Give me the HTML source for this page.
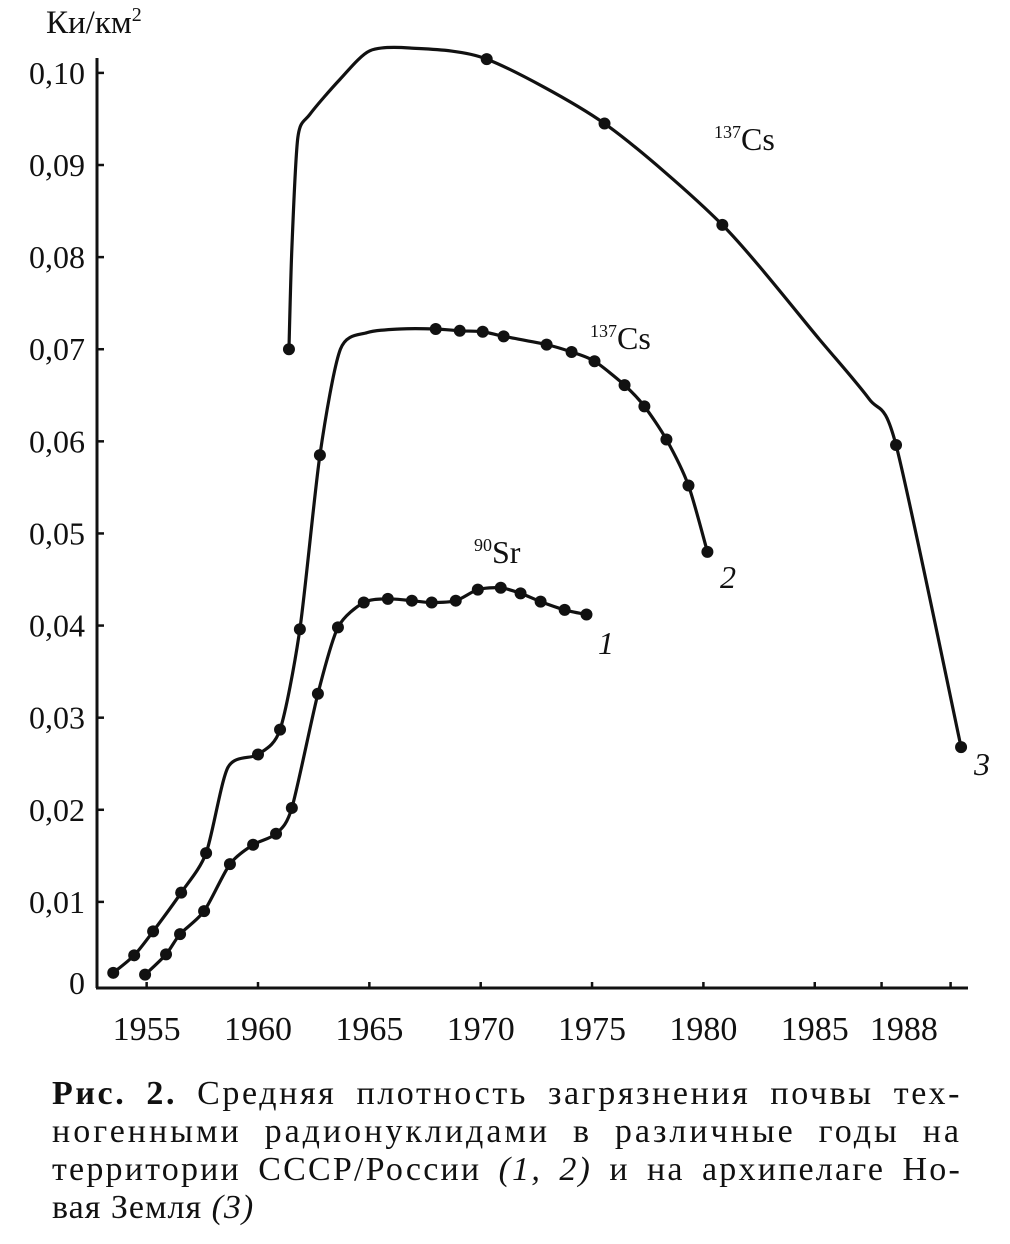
<!DOCTYPE html>
<html><head><meta charset="utf-8">
<style>
html,body{margin:0;padding:0;background:#fff;}
body{width:1010px;height:1244px;overflow:hidden;position:relative;font-family:"Liberation Serif",serif;}
#cap{position:absolute;left:52px;top:1075px;width:910px;font-size:34px;line-height:38px;color:#111;}
#cap div{text-align:justify;text-align-last:justify;white-space:nowrap;}
#cap div.last{text-align-last:left;}
#cap .meas{position:absolute;left:0;top:0;visibility:hidden;white-space:nowrap;}
</style></head><body>
<svg id="chart" width="1010" height="1070" style="position:absolute;left:0;top:0" font-family="Liberation Serif, serif"></svg>
<div id="cap">
<div><b>Рис. 2.</b> Средняя плотность загрязнения почвы тех-</div>
<div>ногенными радионуклидами в различные годы на</div>
<div>территории СССР/России <i>(1, 2)</i> и на архипелаге Но-</div>
<div class="last">вая Земля <i>(3)</i></div>
</div>
<script>
const yTicks=[0,0.01,0.02,0.03,0.04,0.05,0.06,0.07,0.08,0.09,0.10];
const yTickLabels=["0","0,01","0,02","0,03","0,04","0,05","0,06","0,07","0,08","0,09","0,10"];
const xTicks=[1955,1960,1965,1970,1975,1980,1985,1988,1991.1];
const xLabelYears=[1955,1960,1965,1970,1975,1980,1985,1989];
const xLabels=["1955","1960","1965","1970","1975","1980","1985","1988"];
// series 1: 90Sr
const s1Years=[1954.93,1955.87,1956.50,1957.58,1958.74,1959.78,1960.81,1961.52,1962.69,1963.59,1964.75,1965.83,1966.91,1967.80,1968.88,1969.87,1970.90,1971.79,1972.69,1973.77,1974.75];
const s1Vals=[0.0021,0.0043,0.0065,0.0090,0.0141,0.0162,0.0174,0.0202,0.0326,0.0398,0.0425,0.0429,0.0427,0.0425,0.0427,0.0439,0.0441,0.0435,0.0426,0.0417,0.0412];
const s1Dots=[1,1,1,1,1,1,1,1,1,1,1,1,1,1,1,1,1,1,1,1,1];
// series 2: 137Cs USSR
const s2Years=[1953.50,1954.44,1955.29,1956.55,1957.67,1958.65,1960.00,1960.99,1961.88,1962.78,1963.7,1964.9,1966.37,1967.98,1969.06,1970.09,1971.03,1972.96,1974.08,1975.11,1976.46,1977.35,1978.34,1979.33,1980.18];
const s2Vals=[0.0023,0.0042,0.0068,0.0110,0.0153,0.0246,0.0260,0.0287,0.0396,0.0585,0.0700,0.0718,0.0722,0.0722,0.0720,0.0719,0.0714,0.0705,0.0697,0.0687,0.0661,0.0638,0.0602,0.0552,0.0480];
const s2Dots=[1,1,1,1,1,0,1,1,1,1,0,0,0,1,1,1,1,1,1,1,1,1,1,1,1];
// series 3: 137Cs Novaya Zemlya
const s3Years=[1961.39,1961.52,1961.79,1962.33,1963.68,1965.02,1966.82,1970.27,1975.56,1980.85,1985.2,1987.44,1988.65,1991.57];
const s3Vals=[0.0700,0.0809,0.0930,0.0955,0.0993,0.1024,0.1027,0.1015,0.0945,0.0835,0.0711,0.0646,0.0596,0.0268];
const s3Dots=[1,0,0,0,0,0,0,1,1,1,0,0,1,1];

const NS="http://www.w3.org/2000/svg";
const svg=document.getElementById('chart');
const X=y=>258+(y-1960)*22.27;
const Y=v=>994-v*9211;
function mk(t,a,p){const e=document.createElementNS(NS,t);for(const k in a)e.setAttribute(k,a[k]);(p||svg).appendChild(e);return e;}
let ax=mk('line',{x1:97,y1:58,x2:97,y2:988,stroke:'#111','stroke-width':3});


let bx=mk('line',{x1:96,y1:988,x2:968,y2:988,stroke:'#111','stroke-width':3});


yTicks.forEach((v,i)=>{
  if(v>0){const tk=mk('line',{x1:97,y1:Y(v),x2:104,y2:Y(v),stroke:'#111','stroke-width':2.5});
  
  }
  const t=mk('text',{x:85,y:(v===0?994:Y(v)+11),'text-anchor':'end','font-size':32,fill:'#111'});
  t.textContent=yTickLabels[i];
  
  
});
xTicks.forEach(v=>{
  const tk=mk('line',{x1:X(v),y1:988,x2:X(v),y2:982,stroke:'#111','stroke-width':2.5});
  
  
});
xLabelYears.forEach((v,i)=>{
  const t=mk('text',{x:X(v),y:1040,'text-anchor':'middle','font-size':34,fill:'#111','textLength':68});
  t.textContent=xLabels[i];
  
  
});
const u=mk('text',{x:46,y:33,'font-size':33,fill:'#111'});
u.innerHTML='Ки/км<tspan font-size="20" dy="-12">2</tspan>';



function path(xs,vs){
  const p=xs.map((x,i)=>[X(x),Y(vs[i])]);
  let d='M'+p[0][0]+','+p[0][1];
  const t=0.13;
  for(let i=0;i<p.length-1;i++){
    const p0=p[i-1]||p[i],p1=p[i],p2=p[i+1],p3=p[i+2]||p2;
    d+=' C'+(p1[0]+(p2[0]-p0[0])*t)+','+(p1[1]+(p2[1]-p0[1])*t)+' '+(p2[0]-(p3[0]-p1[0])*t)+','+(p2[1]-(p3[1]-p1[1])*t)+' '+p2[0]+','+p2[1];
  }
  return d;
}
function series(xs,vs,ds,name){
  const g=mk('g',{});
  
  
  const l=mk('path',{d:path(xs,vs),fill:'none',stroke:'#111','stroke-width':3.2},g);
  
  
  xs.forEach((x,i)=>{if(!ds[i])return;
    const c=mk('circle',{cx:X(x),cy:Y(vs[i]),r:6,fill:'#111'},g);
    
    
  });
}
series(s1Years,s1Vals,s1Dots,'series-1-sr90');
series(s2Years,s2Vals,s2Dots,'series-2-cs137');
series(s3Years,s3Vals,s3Dots,'series-3-cs137');
function lbl(x,y,html,name,size,style){
  const t=mk('text',{x:x,y:y,'font-size':size||32,fill:'#111','font-style':style||'normal'});
  t.innerHTML=html;
  
  
}
lbl(714,150,'<tspan font-size="18" dy="-12">137</tspan><tspan dy="12">Cs</tspan>','label-cs137-3');
lbl(590,349,'<tspan font-size="18" dy="-12">137</tspan><tspan dy="12">Cs</tspan>','label-cs137-2');
lbl(474,563,'<tspan font-size="18" dy="-12">90</tspan><tspan dy="12">Sr</tspan>','label-sr90');
lbl(598,654,'1','curve-number-1',32,'italic');
lbl(720,588,'2','curve-number-2',32,'italic');
lbl(974,775,'3','curve-number-3',32,'italic');
const cap=document.getElementById('cap');
document.querySelectorAll('#cap div').forEach(d=>{
  
  
  if(d.classList.contains('last')){d.style.letterSpacing='1px';return;}
  const s=document.createElement('span');s.className='meas';s.innerHTML=d.innerHTML;
  cap.appendChild(s);const w=s.getBoundingClientRect().width;s.remove();
  const n=d.textContent.trim().length;
  let extra=(910-w)*0.7/n;
  extra=Math.min(3,Math.max(0,extra));
  d.style.letterSpacing=extra.toFixed(2)+'px';
});
</script>
</body></html>
